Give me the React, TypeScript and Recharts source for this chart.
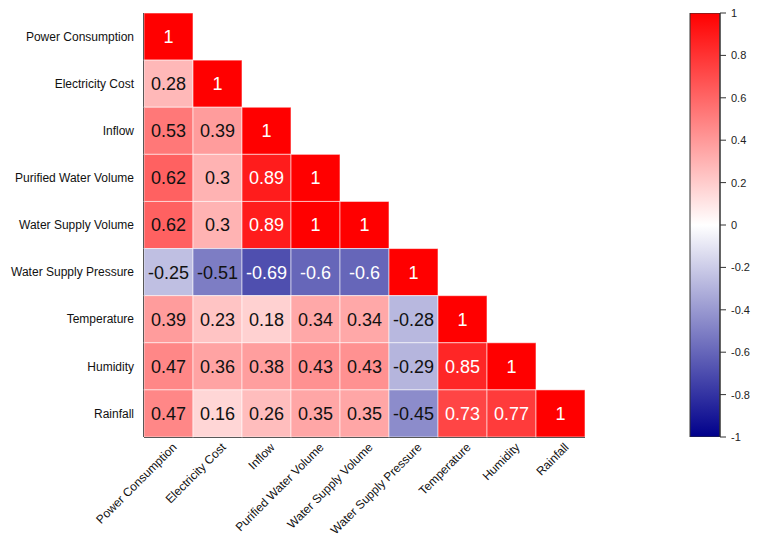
import { ScatterChart, Scatter, XAxis, YAxis, BarChart, Bar } from 'recharts';

const variables = [
  'Power Consumption',
  'Electricity Cost',
  'Inflow',
  'Purified Water Volume',
  'Water Supply Volume',
  'Water Supply Pressure',
  'Temperature',
  'Humidity',
  'Rainfall',
];

// lower triangle of the correlation matrix, one row per variable
const rowPower = [1];
const rowCost = [0.28, 1];
const rowInflow = [0.53, 0.39, 1];
const rowPurified = [0.62, 0.3, 0.89, 1];
const rowSupplyVol = [0.62, 0.3, 0.89, 1, 1];
const rowPressure = [-0.25, -0.51, -0.69, -0.6, -0.6, 1];
const rowTemp = [0.39, 0.23, 0.18, 0.34, 0.34, -0.28, 1];
const rowHumidity = [0.47, 0.36, 0.38, 0.43, 0.43, -0.29, 0.85, 1];
const rowRainfall = [0.47, 0.16, 0.26, 0.35, 0.35, -0.45, 0.73, 0.77, 1];

const colorbarTicks = [1, 0.8, 0.6, 0.4, 0.2, 0, -0.2, -0.4, -0.6, -0.8, -1];

const rows = [rowPower, rowCost, rowInflow, rowPurified, rowSupplyVol, rowPressure, rowTemp, rowHumidity, rowRainfall];

const cells = rows.flatMap((row, i) =>
  row.map((value, j) => ({ x: j + 0.5, y: i + 0.5, value }))
);

const centers = variables.map((_, i) => i + 0.5);

const W = 761;
const H = 540;
const MARGIN = { top: 13, right: 176, bottom: 0, left: 0 };
const Y_AXIS_W = 144;
const X_AXIS_H = 103;
const CELL_W = (W - MARGIN.left - MARGIN.right - Y_AXIS_W) / variables.length;
const CELL_H = (H - MARGIN.top - MARGIN.bottom - X_AXIS_H) / variables.length;
const FONT = '"Liberation Sans", Arial, sans-serif';

const RED = [255, 0, 0];
const BLUE = [0, 0, 139];

function colorFor(v: number) {
  const end = v >= 0 ? RED : BLUE;
  const t = Math.min(1, Math.abs(v));
  const c = end.map((e) => Math.round(255 + (e - 255) * t));
  return `rgb(${c[0]},${c[1]},${c[2]})`;
}

const HeatCell = (props: any) => {
  const { cx, cy, payload } = props;
  const v = payload.value;
  const light = v >= 0.7 || v <= -0.55;
  return (
    <g>
      <rect
        x={cx - CELL_W / 2}
        y={cy - CELL_H / 2}
        width={CELL_W}
        height={CELL_H}
        fill={colorFor(v)}
        stroke="#ffffff"
        strokeOpacity={0.55}
        strokeWidth={1}
      />
      <text
        x={cx}
        y={cy}
        dy="0.36em"
        textAnchor="middle"
        fontSize={18}
        fontFamily={FONT}
        fill={light ? '#ffffff' : '#111111'}
      >
        {String(v)}
      </text>
    </g>
  );
};

const RowTick = (props: any) => {
  const { x, y, payload } = props;
  return (
    <text x={x} y={y} dy="0.35em" textAnchor="end" fontSize={12} fontFamily={FONT} fill="#111">
      {variables[Math.floor(payload.value)]}
    </text>
  );
};

const ColTick = (props: any) => {
  const { x, y, payload } = props;
  const tx = x + 9;
  const ty = y + 3;
  return (
    <text
      x={tx}
      y={ty}
      textAnchor="end"
      fontSize={12}
      fontFamily={FONT}
      fill="#111"
      transform={`rotate(-45, ${tx}, ${ty})`}
    >
      {variables[Math.floor(payload.value)]}
    </text>
  );
};

const colorbarData = [{ name: 'scale', range: [-1, 1] }];

export default function App() {
  return (
    <div style={{ position: 'absolute', left: 0, top: 0, width: W, height: H, background: '#fff' }}>
      <ScatterChart width={W} height={H} margin={MARGIN}>
        <XAxis
          type="number"
          dataKey="x"
          domain={[0, variables.length]}
          ticks={centers}
          interval={0}
          height={X_AXIS_H}
          tick={<ColTick />}
          tickLine={false}
          tickSize={0}
          tickMargin={8}
          axisLine={{ stroke: '#1a1a1a', strokeWidth: 2 }}
        />
        <YAxis
          type="number"
          dataKey="y"
          domain={[0, variables.length]}
          reversed
          ticks={centers}
          interval={0}
          width={Y_AXIS_W}
          tick={<RowTick />}
          tickLine={false}
          tickSize={0}
          tickMargin={10}
          axisLine={{ stroke: '#1a1a1a', strokeWidth: 2 }}
        />
        <Scatter data={cells} shape={<HeatCell />} isAnimationActive={false} />
      </ScatterChart>

      {/* colour scale */}
      <div style={{ position: 'absolute', left: 660, top: 0 }}>
        <BarChart
          width={101}
          height={H}
          data={colorbarData}
          margin={{ top: 13, right: 0, bottom: 103, left: 30 }}
          barCategoryGap={0}
        >
          <defs>
            <linearGradient id="cbar" x1="0" y1="0" x2="0" y2="1">
              <stop offset="0%" stopColor="rgb(255,0,0)" />
              <stop offset="50%" stopColor="#ffffff" />
              <stop offset="100%" stopColor="rgb(0,0,139)" />
            </linearGradient>
          </defs>
          <XAxis dataKey="name" hide />
          <YAxis
            orientation="right"
            type="number"
            domain={[-1, 1]}
            allowDataOverflow
            ticks={colorbarTicks}
            interval={0}
            width={41}
            tickSize={6}
            tickMargin={5}
            tickLine={{ stroke: '#333' }}
            axisLine={{ stroke: '#333' }}
            tick={{ fontSize: 11, fill: '#222', fontFamily: FONT }}
            tickFormatter={(v: number) => String(v)}
          />
          <Bar dataKey="range" fill="url(#cbar)" stroke="#333" strokeWidth={1} isAnimationActive={false} />
        </BarChart>
      </div>
    </div>
  );
}
